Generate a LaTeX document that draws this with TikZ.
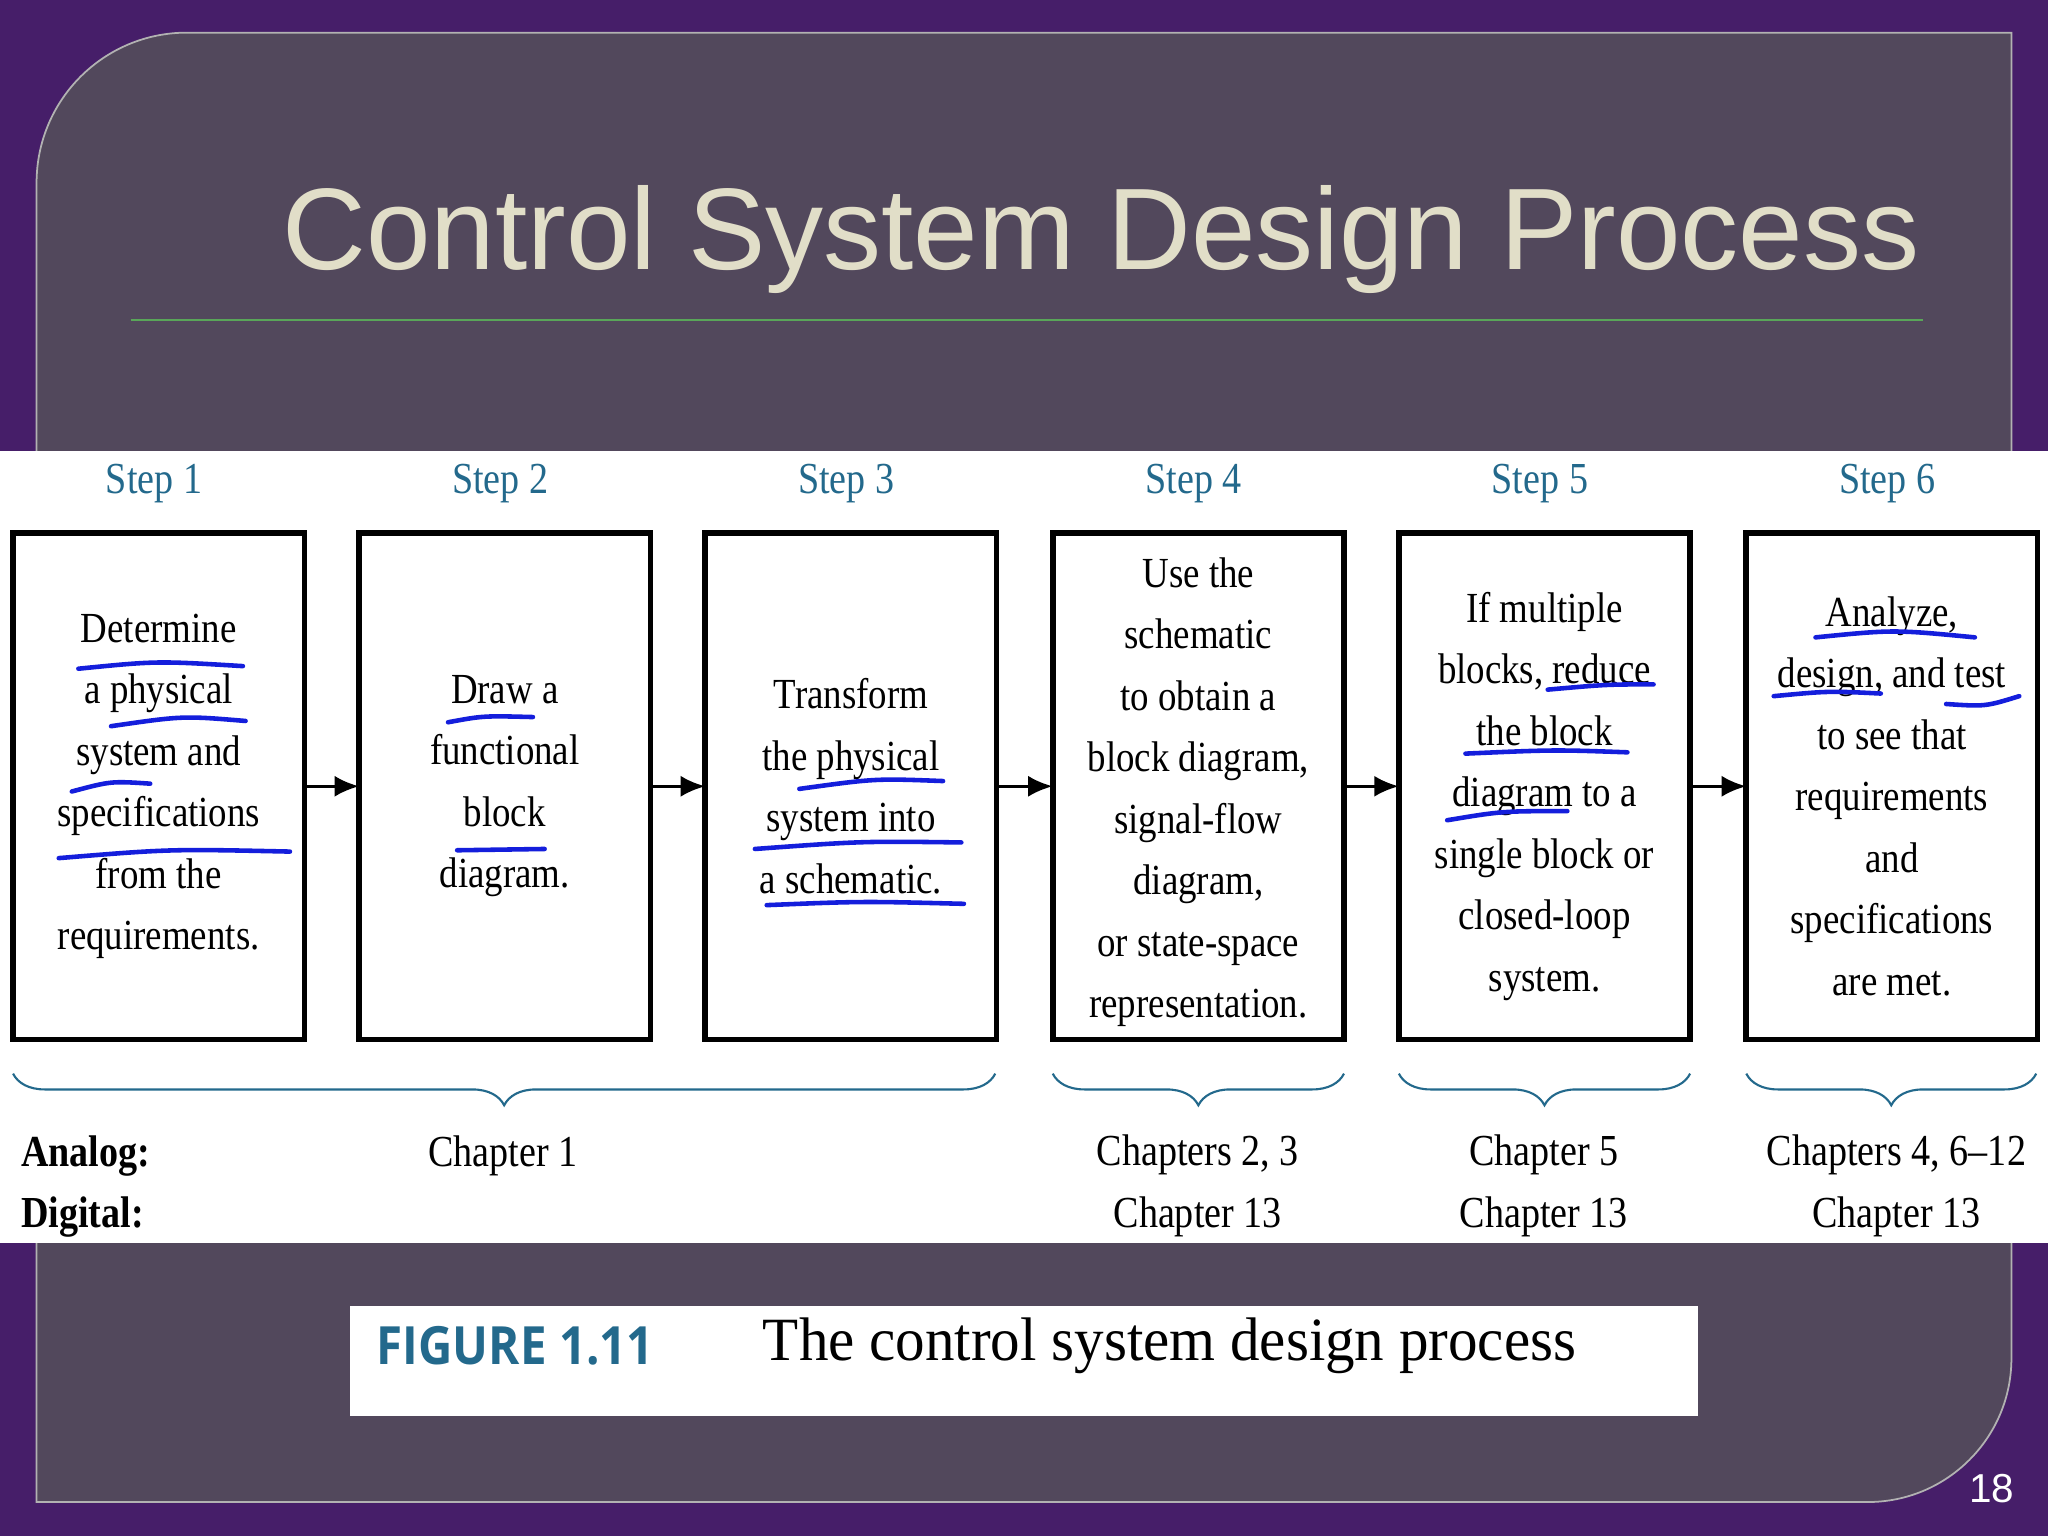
\documentclass[tikz,border=0pt]{standalone}
\usepackage{fontspec}
\setmainfont{Liberation Serif}
\newfontfamily\titlefont{Liberation Sans}
\newfontfamily\capfont{Open Sans}
\usetikzlibrary{decorations.pathreplacing,arrows.meta}
\definecolor{bgpurple}{RGB}{70,30,105}
\definecolor{panel}{RGB}{82,72,92}
\definecolor{titlecol}{RGB}{225,222,200}
\definecolor{stepcol}{RGB}{35,105,140}
\definecolor{pen}{RGB}{20,30,220}
\tikzset{
 x=0.01306cm,y=-0.01306cm,
 boxtext/.style={align=center,font=\fontsize{12.2}{17.5}\selectfont,xscale=0.86},
 steplbl/.style={text=stepcol,font=\fontsize{12.6}{15}\selectfont,xscale=0.86},
 chap/.style={align=center,font=\fontsize{12.6}{17.5}\selectfont,xscale=0.86},
 brc/.style={draw=stepcol,line width=0.6pt,decorate,decoration={brace,mirror,amplitude=9pt}},
 flow/.style={-{Latex[length=7pt,width=6pt]},line width=1pt},
 ul/.style={pen,line width=1.3pt,line cap=round}
}
\begin{document}
\begin{tikzpicture}
\useasboundingbox (0,0) rectangle (1568,1176);
\fill[bgpurple] (0,0) rectangle (1568,1176);
\filldraw[fill=panel,draw=gray!60,line width=0.5pt] (28,140) .. controls (28,76.5) and (79.5,25) .. (143,25) -- (1540,25) -- (1540,1040) .. controls (1540,1100.7) and (1490.7,1150) .. (1430,1150) -- (28,1150) -- cycle;
\node[text=titlecol,font=\titlefont\fontsize{33}{38}\selectfont] (title) at (843,183) {Control System Design Process};
\draw[gray!70!green,line width=0.6pt] (100,245) -- (1472,245);
\fill[white] (0,345) rectangle (1568,952);
% boxes
\foreach \n/\x in {1/10,2/275,3/540,4/806,5/1071,6/1337}{
 \draw[line width=1.6pt] (\x,408) rectangle ++(223,388);
 \coordinate (b\n) at (\x+111.5,602);
 \coordinate (l\n) at (\x,602);
 \coordinate (r\n) at (\x+223,602);
 \node[steplbl] (s\n) at (\x+108,370) {Step \n};
}
\node[boxtext] (t1) at (b1) {Determine\\a physical\\system and\\specifications\\from the\\requirements.};
\node[boxtext] (t2) at (b2) {Draw a\\functional\\block\\diagram.};
\node[boxtext] (t3) at (b3) {Transform\\the physical\\system into\\a schematic.};
\node[boxtext] (t4) at ([yshift=-0.06cm]b4) {Use the\\schematic\\to obtain a\\block diagram,\\signal-flow\\diagram,\\or state-space\\representation.};
\node[boxtext] (t5) at ([yshift=-0.1cm]b5) {If multiple\\blocks, reduce\\the block\\diagram to a\\single block or\\closed-loop\\system.};
\node[boxtext] (t6) at ([yshift=-0.1cm]b6) {Analyze,\\design, and test\\to see that\\requirements\\and\\specifications\\are met.};
\draw[flow] (r1) -- (l2);
\draw[flow] (r2) -- (l3);
\draw[flow] (r3) -- (l4);
\draw[flow] (r4) -- (l5);
\draw[flow] (r5) -- (l6);
% braces
\coordinate (ba1) at (10,822); \coordinate (bb1) at (762,822);
\coordinate (ba4) at (806,822); \coordinate (bb4) at (1029,822);
\coordinate (ba5) at (1071,822); \coordinate (bb5) at (1294,822);
\coordinate (ba6) at (1337,822); \coordinate (bb6) at (1559,822);
\draw[brc] (ba1) -- (bb1);
\draw[brc] (ba4) -- (bb4);
\draw[brc] (ba5) -- (bb5);
\draw[brc] (ba6) -- (bb6);
\node[chap,font=\bfseries\fontsize{12.6}{15}\selectfont,anchor=west] (an) at (8,885) {Analog:};
\node[chap,font=\bfseries\fontsize{12.6}{15}\selectfont,anchor=west] (di) at (8,932) {Digital:};
\node[chap] (c1) at (385,885) {Chapter 1};
\node[chap] (c4) at (917,908) {Chapters 2, 3\\Chapter 13};
\node[chap] (c5) at (1182,908) {Chapter 5\\Chapter 13};
\node[chap] (c6) at (1452,908) {Chapters 4, 6--12\\Chapter 13};
% underlines
\draw[ul] (60,512) .. controls (120,506) .. (186,510);
\draw[ul] (85,556) .. controls (140,548) .. (188,552);
\draw[ul] (55,606) .. controls (85,598) .. (115,600);
\draw[ul] (45,657) .. controls (130,650) .. (222,652);
\draw[ul] (343,553) .. controls (370,548) .. (408,549);
\draw[ul] (350,651) -- (417,650);
\draw[ul] (612,604) .. controls (670,596) .. (722,598);
\draw[ul] (578,650) .. controls (660,644) .. (736,645);
\draw[ul] (587,693) .. controls (660,690) .. (738,692);
\draw[ul] (1185,528) .. controls (1230,524) .. (1266,524);
\draw[ul] (1122,577) .. controls (1190,574) .. (1246,576);
\draw[ul] (1108,628) .. controls (1150,621) .. (1200,621);
\draw[ul] (1390,488) .. controls (1450,482) .. (1512,488);
\draw[ul] (1358,533) .. controls (1400,529) .. (1440,531);
\draw[ul] (1490,539) .. controls (1520,541) .. (1546,533);
% caption
\fill[white] (268,1000) rectangle (1300,1084);
\node[anchor=west,text=stepcol,font=\capfont\bfseries\fontsize{15}{18}\selectfont,xscale=0.9] (fig) at (280,1030) {FIGURE 1.11};
\node[anchor=west,font=\fontsize{17.5}{20}\selectfont,xscale=0.96] (cap) at (575,1030) {The control system design process};
\node[text=white,font=\titlefont\fontsize{11.5}{14}\selectfont] (pg) at (1525,1140) {18};
\end{tikzpicture}
\end{document}
